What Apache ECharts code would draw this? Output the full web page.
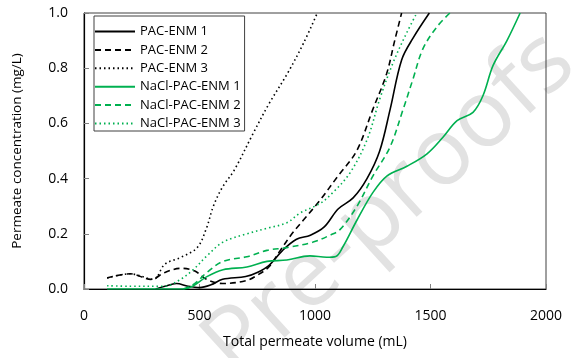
<!DOCTYPE html>
<html><head><meta charset="utf-8">
<script src="https://cdn.jsdelivr.net/npm/echarts@6/dist/echarts.min.js"></script>
<style>html,body{margin:0;padding:0;background:#fff}#c{width:576px;height:358px}</style>
</head><body><div id="c"></div>
<script>
var seriesNames = ['PAC-ENM 1','PAC-ENM 2','PAC-ENM 3','NaCl-PAC-ENM 1','NaCl-PAC-ENM 2','NaCl-PAC-ENM 3'];
var xTicks = [0, 500, 1000, 1500, 2000];
var yTicks = [0.0, 0.2, 0.4, 0.6, 0.8, 1.0];

var pacEnm1 = [[310,0],[350,0.01],[400,0.02],[450,0.01],[500,0.005],[550,0.015],[600,0.035],[700,0.045],[750,0.06],[800,0.085],[860,0.14],[920,0.18],[980,0.195],[1040,0.225],[1100,0.29],[1165,0.33],[1225,0.40],[1280,0.50],[1325,0.65],[1375,0.83],[1425,0.91],[1495,1.0]];
var pacEnm2 = [[100,0.04],[200,0.055],[290,0.035],[350,0.06],[420,0.075],[480,0.065],[530,0.035],[600,0.02],[700,0.03],[750,0.05],[800,0.08],[850,0.14],[900,0.2],[950,0.25],[1020,0.32],[1100,0.41],[1180,0.50],[1250,0.65],[1310,0.78],[1345,0.9],[1375,1.0]];
var pacEnm3 = [[100,0.04],[200,0.055],[300,0.035],[350,0.09],[420,0.115],[490,0.15],[530,0.22],[560,0.30],[600,0.37],[650,0.43],[730,0.56],[800,0.67],[880,0.78],[950,0.89],[1010,1.0]];
var nacl1 = [[100,0],[300,0],[430,0],[470,0.01],[532,0.045],[602,0.07],[705,0.08],[792,0.10],[878,0.105],[978,0.12],[1050,0.115],[1090,0.118],[1121,0.153],[1182,0.25],[1251,0.35],[1312,0.41],[1398,0.445],[1485,0.49],[1554,0.55],[1615,0.61],[1684,0.64],[1727,0.70],[1771,0.81],[1831,0.90],[1888,1.0]];
var nacl2 = [[430,0],[480,0.02],[532,0.06],[602,0.10],[705,0.117],[792,0.14],[878,0.15],[992,0.17],[1065,0.195],[1108,0.215],[1182,0.30],[1251,0.41],[1325,0.515],[1381,0.65],[1424,0.76],[1467,0.87],[1528,0.95],[1584,1.0]];
var nacl3 = [[100,0.012],[200,0.01],[350,0.01],[416,0.034],[473,0.07],[532,0.12],[602,0.17],[705,0.2],[792,0.22],[878,0.24],[935,0.275],[1022,0.31],[1078,0.35],[1151,0.42],[1225,0.54],[1281,0.69],[1338,0.82],[1398,0.93],[1441,1.0]];

var allData = [pacEnm1, pacEnm2, pacEnm3, nacl1, nacl2, nacl3];
var colors = ['#000000','#000000','#000000','#00b050','#00b050','#00b050'];
var dashes = ['solid',[6,4],[1.5,3],'solid',[6,4],[1.5,3]];
var font = 'Open Sans';

var chart = echarts.init(document.getElementById('c'), null, {renderer:'canvas'});
var series = seriesNames.map(function(n,i){
  return {name:n, type:'line', data:allData[i], smooth:0.35, symbol:'none', clip:true,
    lineStyle:{color:colors[i], width:1.6, type:dashes[i]}, itemStyle:{color:colors[i]}, z:3};
});
chart.setOption({
  animation:false,
  textStyle:{fontFamily:font},
  grid:{left:84, right:30, top:13, bottom:69, show:true, borderColor:'#404040', borderWidth:1, containLabel:false},
  graphic:[{type:'text', x:390, y:205, rotation:0.74, z:-10, silent:true,
    style:{text:'Pre-proofs', fill:'#e2e2e2', font:'94px "Open Sans"', textAlign:'center', textVerticalAlign:'middle'}}],
  legend:{orient:'vertical', left:94, top:16, itemWidth:40, itemHeight:14, itemGap:5.4,
    padding:[9,4,1,0], borderColor:'#404040', borderWidth:1, backgroundColor:'rgba(255,255,255,0)',
    itemStyle:{opacity:0, color:'rgba(0,0,0,0)', borderWidth:0},
    textStyle:{fontFamily:font, fontSize:13, color:'#000'}, data:seriesNames},
  xAxis:{type:'value', min:0, max:2000, interval:500,
    name:'Total permeate volume (mL)', nameLocation:'middle', nameGap:46,
    nameTextStyle:{fontFamily:font, fontSize:14, color:'#000'},
    axisLine:{show:true, lineStyle:{color:'#000', width:1.2}},
    axisTick:{show:true, inside:true, length:5, lineStyle:{color:'#808080'}},
    axisLabel:{fontFamily:font, fontSize:14, color:'#000', margin:20, formatter:function(v){return String(v);}},
    splitLine:{show:false}},
  yAxis:{type:'value', min:0, max:1, interval:0.2,
    name:'Permeate concentration (mg/L)', nameLocation:'middle', nameGap:60, nameRotate:90,
    nameTextStyle:{fontFamily:font, fontSize:13.5, color:'#000'},
    axisLine:{show:true, lineStyle:{color:'#000', width:1.2}},
    axisTick:{show:true, inside:true, length:5, lineStyle:{color:'#808080'}},
    axisLabel:{fontFamily:font, fontSize:14, color:'#000', margin:16, formatter:function(v){return v.toFixed(1);}},
    splitLine:{show:false}},
  series:series
});
</script></body></html>
